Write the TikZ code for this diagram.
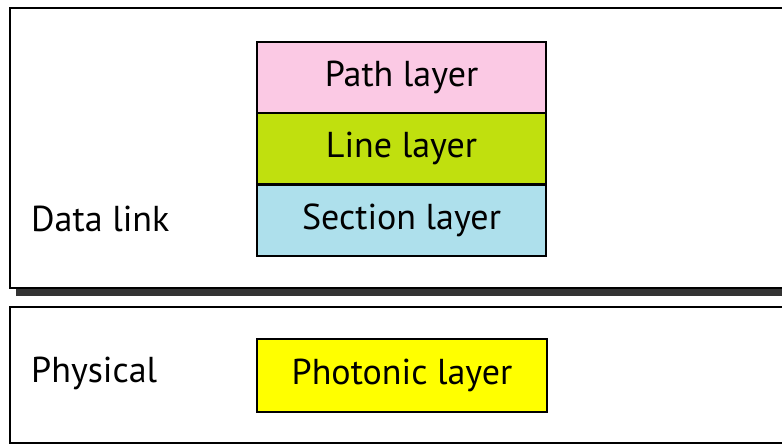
\documentclass[tikz,border=0pt]{standalone}
\usepackage{fontspec}
\setmainfont{PT Sans}
\definecolor{pathc}{HTML}{FBC9E4}
\definecolor{linec}{HTML}{C0E00E}
\definecolor{secc}{HTML}{AEE0EC}
\definecolor{photc}{HTML}{FFFF00}
\definecolor{shad}{HTML}{333333}
\tikzset{
  layerbox/.style={draw=black, line width=2pt, minimum width=289pt, inner sep=0pt, font=\fontsize{36}{40}\selectfont},
  lbl/.style={anchor=west, inner sep=0pt, font=\fontsize{36}{40}\selectfont},
}
\begin{document}
\begin{tikzpicture}[x=1pt,y=-1pt]
\useasboundingbox (0,0) rectangle (782,444);
\begin{scope}
\clip (0,0) rectangle (782,444);
% shadow of top box
\fill[shad] (16,288) rectangle (800,296);
% top box
\draw[line width=2.5pt, fill=white] (10,8) rectangle (800,288);
% bottom box
\draw[line width=1.6pt, fill=white] (10,307) rectangle (800,443);
\end{scope}
\node[layerbox, fill=pathc, minimum height=71pt] (path) at (401.5,77.5) {Path layer};
\node[layerbox, fill=linec, minimum height=71pt] (line) at (401.5,148.5) {Line layer};
\node[layerbox, fill=secc, minimum height=71pt] (sect) at (401.5,220) {Section layer};
\node[layerbox, fill=photc, minimum width=290pt, minimum height=73pt] (phot) at (402,375.5) {Photonic layer};
\node[lbl] (dl) at (31,219) {Data link};
\node[lbl] (phy) at (31,373) {Physical};
\end{tikzpicture}
\end{document}
